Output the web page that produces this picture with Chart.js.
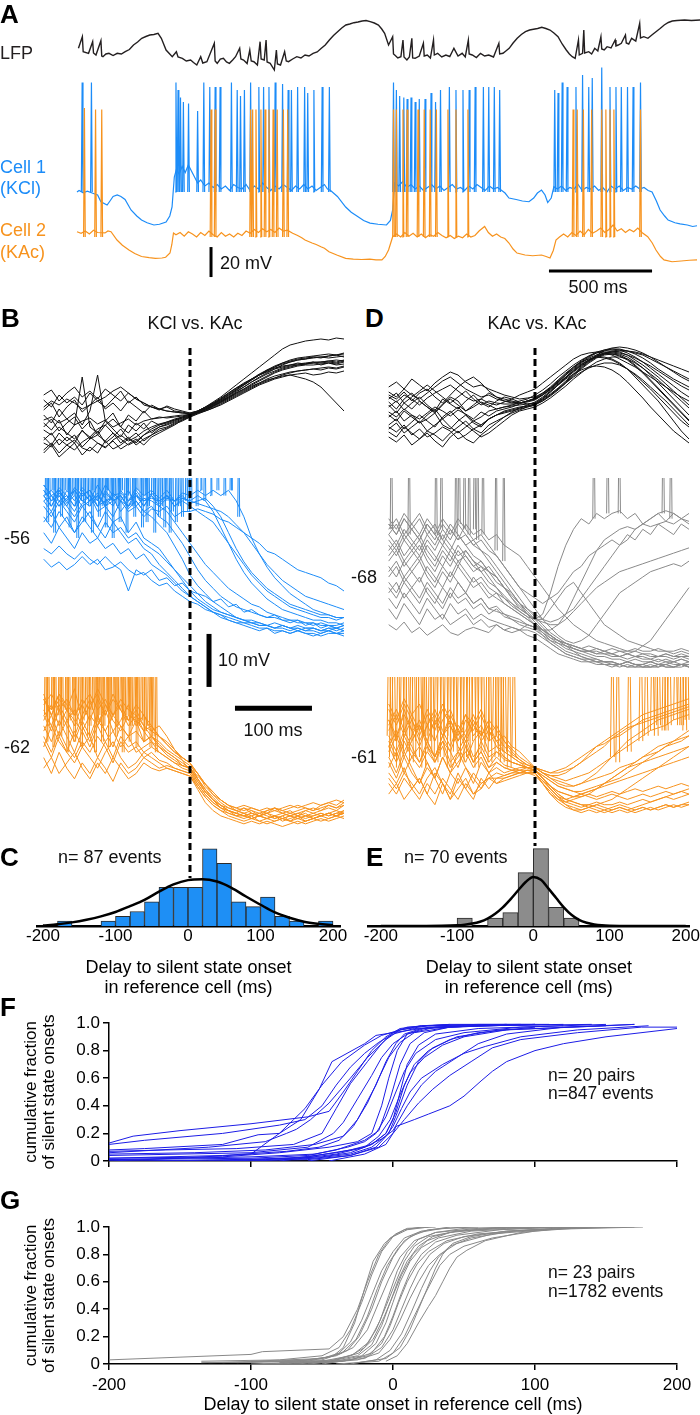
<!DOCTYPE html>
<html>
<head>
<meta charset="utf-8">
<script src="https://cdn.jsdelivr.net/npm/chart.js@4.4.1/dist/chart.umd.min.js"></script>
<style>
body { margin: 0; background: #fff; width: 700px; height: 1415px; position: relative; overflow: hidden; font-family: "Liberation Sans", Arial, sans-serif; }
canvas { position: absolute; }
.t { position: absolute; white-space: nowrap; line-height: 1; color: #111; }
</style>
</head>
<body>
<script>
// ---------- panel A : LFP + two cells (time ms, LFP uV, Vm mV) ----------
const lfpTrace = [[7,67],[26,183],[30,33],[56,17],[76,133],[80,20],[92,0],[116,143],[120,-10],[126,-17],[140,10],[155,17],[175,-5],[195,17],[215,10],[234,33],[254,55],[274,100],[294,130],[314,167],[334,185],[353,200],[373,205],[393,217],[409,167],[432,50],[462,-17],[482,33],[490,-20],[511,-33],[530,-60],[551,-50],[565,-75],[581,-100],[600,-17],[610,-80],[630,-67],[666,117],[670,-60],[680,-83],[695,-40],[710,-33],[725,-70],[739,-83],[755,-50],[769,-17],[789,67],[795,-40],[808,-50],[825,-85],[838,50],[845,-60],[858,-67],[875,-100],[888,133],[893,-40],[908,-50],[917,150],[922,-70],[937,-83],[957,-150],[967,50],[972,-90],[987,-100],[1007,33],[1015,-60],[1026,-67],[1046,-40],[1066,-17],[1086,-30],[1106,0],[1125,-10],[1145,17],[1165,30],[1185,67],[1204,100],[1224,150],[1244,195],[1264,233],[1284,270],[1304,300],[1323,310],[1343,323],[1363,330],[1383,340],[1402,345],[1422,333],[1442,320],[1462,300],[1478,260],[1492,217],[1511,100],[1531,183],[1535,10],[1541,0],[1556,-30],[1571,-17],[1581,150],[1586,-20],[1600,-50],[1612,-20],[1624,167],[1628,-30],[1640,-33],[1660,-10],[1680,117],[1684,-10],[1699,0],[1714,-30],[1729,150],[1733,0],[1749,17],[1769,-20],[1789,0],[1808,-15],[1828,67],[1848,-10],[1868,17],[1883,-20],[1898,150],[1902,10],[1917,0],[1937,-25],[1957,17],[1977,-10],[1997,0],[2020,-20],[2046,117],[2050,10],[2066,17],[2080,40],[2096,67],[2115,120],[2135,167],[2155,205],[2175,233],[2195,250],[2214,257],[2234,265],[2254,277],[2274,265],[2294,250],[2313,220],[2333,183],[2353,110],[2373,50],[2388,10],[2402,-17],[2416,-33],[2432,150],[2436,0],[2452,17],[2458,250],[2462,20],[2482,33],[2496,10],[2511,67],[2526,40],[2541,183],[2545,60],[2557,50],[2571,83],[2590,70],[2610,150],[2614,90],[2625,100],[2640,117],[2660,200],[2664,120],[2676,110],[2690,167],[2710,140],[2729,317],[2733,170],[2749,183],[2769,167],[2788,200],[2808,233],[2828,265],[2848,300],[2868,325],[2887,340],[2910,345],[2947,350],[2980,345],[3022,350]];

const cell1Trace = [[0,-48],[10,-47],[30,-48.5],[50,-47.5],[80,-49],[100,-50],[116,-54.5],[146,-56.7],[160,-54],[175,-51],[195,-50],[213,-51],[233,-53],[262,-60],[290,-64],[313,-66.7],[340,-68.5],[373,-70],[400,-69.5],[432,-68],[450,-64],[461,-58],[472,-38],[482,-33],[495,-36],[510,-31],[525,-35],[540,-30],[555,-34],[570,-38],[585,-42],[600,-40],[620,-44],[640,-42],[660,-45],[680,-43],[700,-46],[720,-44],[740,-47],[760,-43],[780,-45],[800,-46],[820,-43],[840,-47],[860,-44],[880,-46],[900,-42],[920,-45],[940,-47],[960,-44],[980,-46],[1000,-43],[1020,-45],[1040,-47],[1060,-44],[1080,-46],[1100,-43],[1120,-46],[1140,-44],[1160,-47],[1180,-45],[1200,-43],[1215,-46],[1230,-47],[1263,-51],[1303,-58],[1330,-61.5],[1363,-64.5],[1390,-67],[1421,-68.7],[1460,-69.5],[1501,-70],[1520,-67],[1531,-60],[1541,-42],[1560,-44],[1580,-41],[1600,-45],[1620,-43],[1640,-46],[1660,-44],[1680,-47],[1700,-45],[1720,-43],[1740,-46],[1760,-44],[1780,-47],[1800,-45],[1820,-43],[1840,-46],[1860,-45],[1880,-47],[1900,-44],[1920,-46],[1940,-43],[1960,-45],[1980,-47],[2000,-44],[2020,-46],[2040,-45],[2060,-47],[2076,-48.7],[2095,-52],[2130,-53],[2160,-54],[2192,-54.5],[2215,-52],[2233,-48.7],[2253,-46.7],[2270,-50],[2283,-55],[2300,-52],[2313,-44.5],[2330,-46],[2350,-44],[2370,-47],[2390,-45],[2410,-46],[2430,-43],[2450,-47],[2470,-45],[2490,-46],[2510,-44],[2530,-47],[2550,-45],[2570,-48],[2590,-44],[2610,-46],[2630,-44],[2650,-47],[2670,-45],[2690,-46],[2710,-44],[2730,-46],[2750,-45],[2770,-47],[2789,-48],[2810,-54],[2828,-60],[2850,-64],[2867,-66.7],[2900,-68.5],[2925,-69.3],[2960,-70],[2986,-71],[3007,-70.5]];

// [time, peak]
const cell1Spikes = [[21,25],[66,25],[476,25],[486,20],[498,15],[512,12],[537,11],[581,6],[611,25],[640,22],[666,22],[690,22],[745,25],[773,20],[789,16],[808,20],[838,25],[878,22],[901,22],[927,22],[957,25],[993,24],[1020,20],[1036,20],[1066,22],[1100,22],[1115,18],[1145,20],[1185,22],[1220,22],[1531,25],[1545,20],[1561,16],[1581,15],[1597,14],[1616,15],[1636,12],[1656,14],[1684,14],[1713,18],[1735,12],[1759,20],[1802,22],[1834,20],[1868,20],[1898,20],[1927,22],[1967,22],[1993,22],[2020,22],[2046,20],[2313,20],[2329,18],[2349,25],[2373,22],[2416,22],[2448,30],[2478,22],[2495,28],[2541,35],[2581,22],[2610,22],[2636,22],[2666,22],[2693,22],[2729,25]];

const cell2Trace = [[0,-57.5],[20,-58.5],[40,-57],[60,-59],[80,-56.5],[100,-58],[136,-58.3],[150,-57],[165,-57.5],[194,-63],[220,-66.5],[252,-69.7],[280,-72],[313,-74],[350,-74.8],[380,-75.2],[412,-75],[430,-74.5],[451,-71.7],[460,-66],[468,-58.3],[480,-59.5],[500,-58],[520,-60.5],[540,-57.5],[560,-59],[580,-61],[600,-58],[620,-60],[640,-57],[660,-59.5],[680,-61],[700,-58],[720,-60.5],[740,-59],[760,-61],[780,-58.5],[800,-60],[820,-57],[840,-58.5],[860,-56],[880,-58],[900,-55.5],[920,-57.5],[940,-56],[960,-58],[980,-55],[1000,-57],[1020,-56.5],[1046,-58.5],[1070,-60],[1090,-61.5],[1106,-63],[1140,-65],[1160,-66],[1183,-67.5],[1200,-68.5],[1222,-70.8],[1260,-73],[1303,-75.2],[1340,-75.8],[1380,-76],[1420,-75.8],[1450,-76.3],[1479,-76.3],[1495,-74],[1511,-69.7],[1531,-60.8],[1550,-59],[1570,-61],[1590,-58],[1610,-60.5],[1630,-58.5],[1650,-61],[1670,-59],[1690,-61.5],[1710,-59.5],[1730,-60.5],[1750,-58],[1770,-60],[1790,-61.5],[1810,-60],[1830,-62],[1850,-60.5],[1870,-61.5],[1890,-59],[1910,-61],[1930,-60],[1950,-57],[1977,-54],[1995,-58],[2015,-60.5],[2035,-59],[2055,-61],[2075,-62],[2095,-65],[2115,-69],[2134,-71.7],[2173,-73],[2210,-73.5],[2253,-73],[2275,-74],[2294,-75],[2310,-70],[2323,-63],[2340,-61],[2360,-59],[2380,-61],[2400,-58],[2420,-60],[2440,-57],[2460,-59.5],[2480,-56],[2500,-58.5],[2520,-57],[2540,-55],[2560,-58],[2580,-56],[2600,-53],[2620,-57],[2640,-55.5],[2660,-58],[2680,-56],[2700,-57.5],[2720,-55],[2740,-58],[2768,-60.8],[2790,-65],[2808,-69.7],[2830,-74],[2847,-76.3],[2886,-77.5],[2930,-77],[2970,-76.5],[3007,-76.3]];

const cell2Spikes = [[32,25],[86,24],[116,24],[646,24],[666,24],[838,24],[848,24],[864,24],[888,24],[908,24],[927,24],[947,24],[967,24],[997,24],[1018,24],[1531,24],[1545,24],[1577,24],[1597,24],[1650,24],[1680,24],[1709,24],[1739,24],[1795,24],[1834,24],[1892,24],[2402,24],[2422,24],[2452,24],[2492,24],[2541,24],[2561,24],[2581,24],[2600,24],[2729,24]];

// ---------- panels B and D : aligned sweeps around silent state onset ----------
const tGrid = [-190,-180,-170,-160,-150,-140,-130,-120,-110,-100,-90,-80,-70,-60,-50,-40,-30,-20,-10,0,10,20,30,40,50,60,70,80,90,100,110,120,130,140,150,160,170,180,190,200];

// B, LFP sweeps (a.u.)
const bLfp = [
  [-22,-30,-18,-26,-20,-32,-24,-16,-28,-22,-14,-24,-18,-26,-20,-14,-12,-8,-5,-1,4,8,12,16,22,27,31,36,40,44,47,49,50,52,51,53,50,52,51,53],
  [5,12,-2,8,15,3,10,18,6,12,4,14,8,2,10,6,8,4,3,1,3,6,10,14,19,24,28,33,38,42,46,50,53,55,56,58,57,59,60,61],
  [-8,-15,-5,-20,-10,38,-12,-18,-6,-14,-22,-10,-16,-8,-18,-12,-9,-6,-3,0,2,5,8,12,16,20,24,28,32,36,39,41,43,44,45,46,45,47,46,48],
  [-35,-28,-38,-30,-25,-33,-36,-28,-32,-26,-34,-29,-24,-30,-22,-18,-14,-10,-5,-2,1,4,7,10,14,18,22,26,30,33,36,38,40,41,42,40,41,43,42,44],
  [15,8,20,12,18,10,22,14,8,16,24,12,18,10,8,5,9,6,4,2,4,8,13,18,24,30,36,42,48,54,60,66,70,72,74,75,76,75,77,76],
  [-12,-4,-16,-8,-2,-14,-6,-20,-10,-4,-12,-18,-8,-14,-6,-10,-8,-5,-2,0,3,6,9,13,17,21,25,29,32,35,37,39,40,38,36,33,28,20,12,4],
  [0,-8,6,-4,2,-10,4,40,-6,2,-12,0,-6,4,-4,-2,-3,-2,-1,1,3,7,11,15,20,25,30,35,40,45,49,52,54,56,57,58,58,59,60,58],
  [-25,-18,-30,-22,-28,-15,-24,-20,-26,-18,-28,-22,-30,-24,-20,-16,-13,-9,-6,-2,2,5,9,13,17,22,26,30,34,38,42,45,47,49,50,50,51,52,50,51],
  [20,25,14,22,28,18,24,16,26,20,14,22,16,12,8,6,4,3,2,1,2,4,7,11,15,19,23,27,31,34,37,40,42,44,45,46,47,48,47,49],
  [-38,-30,-42,-35,-28,-40,-32,-38,-26,-34,-30,-24,-28,-20,-16,-12,-10,-7,-4,-1,3,7,11,16,21,26,31,36,41,45,48,51,53,55,56,57,58,57,58,59],
  [-5,-2,-8,-4,-10,-6,-3,-9,-5,-12,-8,-4,-10,-6,-4,-3,-2,-1,0,0,3,6,10,14,18,22,26,31,35,39,43,46,48,50,51,52,52,53,52,54],
  [8,14,10,16,12,6,10,14,18,24,28,22,16,12,8,6,4,3,2,2,4,7,11,15,20,25,30,35,40,44,48,52,55,57,58,59,60,61,60,62],
  [-28,-32,-24,-30,-35,-27,-22,-28,-33,-25,-20,-26,-22,-16,-12,-9,-7,-5,-3,-1,2,5,9,13,18,23,28,33,37,41,44,47,49,50,51,52,53,54,53,55],
  [-15,-20,-12,-18,-24,-16,-22,-14,-10,-18,-24,-30,-26,-20,-14,-10,-7,-4,-2,1,4,8,12,17,22,27,32,36,40,43,46,48,50,51,52,53,53,54,55,54]
];

// B, cell 1 (KCl) sweeps, mV
const bCell1 = [
  [-48,-50,-47.5,-49,-51,-48,-47,-50,-49,-48.5,-51,-49,-47.5,-50,-48,-49.5,-48,-50,-49,-50,-51,-52,-53,-55,-57,-59,-61,-63,-64.5,-66,-67,-68,-69,-69.5,-70,-70.5,-71,-71,-71.5,-71],
  [-46,-48,-50,-47,-49,-46.5,-48,-50,-47,-49,-48,-50.5,-49,-51,-52,-53.5,-55,-57.5,-60,-63,-65,-66.5,-68,-69,-70,-71,-71.5,-72,-72.5,-72.5,-73,-72.5,-73,-73.5,-73,-73,-73.5,-73,-73.5,-73],
  [-58,-59,-57.5,-59,-60,-58.5,-60,-61,-59.5,-61,-62,-66,-62,-63,-62,-64,-63.5,-65,-64.5,-66,-66.5,-67,-68,-67.5,-69,-68.5,-70,-69.5,-70.5,-71,-70.5,-71.5,-72,-71.5,-72.5,-72,-73,-72.5,-73,-72.5],
  [-49,-51,-48,-50,-52,-49.5,-48,-51,-50,-52,-49,-51,-50,-52,-50.5,-51,-50,-52,-51,-51,-50.5,-51,-51.5,-52.5,-53,-54,-55,-56,-57,-58.5,-59,-60,-61,-62,-62.5,-63,-63.5,-64.5,-65,-66],
  [-60,-61.5,-60.5,-62,-61,-59.5,-61,-60,-62,-61.5,-60.5,-62,-63,-62.5,-64,-65,-64.5,-66,-67,-68,-68.5,-69.5,-70,-71,-71.5,-72,-72.5,-73,-73.5,-73,-74,-73.5,-74,-73.5,-74,-74.5,-74,-73.5,-74,-74],
  [-47,-49,-46.5,-48,-50,-47.5,-49,-46,-48.5,-50,-47,-49,-48,-50,-47.5,-49,-48,-50,-48.5,-49,-48,-49,-51,-54,-57,-60,-62.5,-64.5,-66,-67.5,-68.5,-69.5,-70,-70.5,-71,-71.5,-71.5,-72,-72,-72.5],
  [-48,-50,-47,-49.5,-48,-50,-49,-47.5,-50,-48,-49,-47,-50,-48.5,-49,-50,-51,-53,-55,-57,-59,-61,-62.5,-64,-65.5,-66.5,-67.5,-68.5,-69,-70,-70.5,-71,-71.5,-71.5,-72,-72,-72.5,-72.5,-73,-72.5],
  [-46,-48,-47,-49,-46.5,-48,-47,-49,-46,-48,-47.5,-49,-46.5,-48,-47,-48.5,-47,-49,-47.5,-48,-47,-48,-47,-48,-47,-49,-52,-56,-59,-61.5,-63.5,-65,-66.5,-67.5,-68.5,-69.5,-70,-70.5,-71,-71],
  [-50,-52,-49,-51,-53,-50,-52,-54,-51,-53,-52,-55,-53,-56,-57,-58,-60,-62,-64,-66,-67.5,-68.5,-69.5,-70,-70.5,-71,-71.5,-71.5,-72,-72.5,-72,-72.5,-73,-72.5,-73,-73,-73.5,-73,-73,-73.5],
  [-52,-54,-51,-53,-55,-52,-54,-56,-53,-55,-54,-56,-55,-57,-58,-59,-60.5,-62,-63.5,-65,-66.5,-68,-69,-70,-70.5,-71,-71.5,-72,-72,-72.5,-73,-72.5,-73,-73,-73.5,-73,-73.5,-73.5,-73,-73.5],
  [-47,-49,-48,-50,-47,-49,-48,-50,-47.5,-49,-48,-50,-47,-49,-48,-50,-48.5,-49,-48,-49.5,-49,-48.5,-50,-52,-55,-58,-60.5,-62.5,-64,-65.5,-66.5,-67.5,-68.5,-69,-69.5,-70,-70.5,-70.5,-71,-71],
  [-55,-57,-54,-56,-58,-55,-57,-56,-58,-57,-59,-58,-60,-59,-61,-62,-63,-64.5,-66,-67,-68,-69,-70,-70.5,-71,-71.5,-72,-72,-72.5,-72.5,-73,-73,-73.5,-73,-73.5,-73.5,-74,-73.5,-74,-73.5],
  [-48,-47,-49,-48,-50,-47,-49,-48,-50,-49,-48,-50,-49,-51,-50,-52,-53,-55,-57,-59.5,-62,-64,-65.5,-67,-68,-69,-69.5,-70,-70.5,-71,-71,-71.5,-71.5,-72,-72,-72.5,-72,-72.5,-72.5,-72],
  [-49,-48,-50,-48.5,-47,-49,-50,-48,-49.5,-47.5,-49,-50,-48,-49,-48.5,-49,-48,-49,-48.5,-49,-49.5,-50,-50.5,-51,-52,-53.5,-55,-57,-59,-61,-62.5,-64,-65,-66,-67,-67.5,-68,-68.5,-69,-69.5],
  [-53,-51,-54,-52,-55,-53,-51,-54,-56,-53,-55,-57,-56,-58,-59,-61,-62.5,-64,-65.5,-67,-68,-69,-70,-70.5,-71.5,-72,-72,-72.5,-73,-73,-73.5,-73.5,-74,-73.5,-74,-74,-74.5,-74,-74,-74.5]
];
// [time, base]
const bCell1Spikes = [[-188,-48],[-184,-50],[-179,-47],[-175,-49],[-171,-48],[-166,-50],[-162,-47],[-158,-49],[-153,-48],[-149,-50],[-145,-47],[-141,-49],[-136,-48],[-132,-50],[-127,-47],[-123,-49],[-118,-48],[-114,-50],[-109,-47],[-104,-49],[-99,-48],[-95,-50],[-90,-47],[-85,-49],[-80,-48],[-75,-50],[-70,-47],[-65,-49],[-60,-48],[-55,-50],[-50,-48],[-45,-49],[-38,-50],[-31,-49],[-24,-51],[-15,-50],[-6,-49],[0,-49],[13,-47],[26,-48],[35,-47],[52,-47],[62,-52],
  [-186,-53],[-177,-55],[-168,-52],[-157,-54],[-147,-56],[-138,-53],[-128,-55],[-119,-52],[-110,-54],[-101,-56],[-92,-53],[-83,-55],[-73,-52],[-63,-54],[-57,-53],[-47,-55],[-41,-52],[-34,-54],[-27,-55],[-19,-53],[-11,-52],[-3,-51],[8,-50],[18,-49],[44,-48]];

// B, cell 2 (KAc) sweeps, mV
const bCell2 = [
  [-55,-58,-54,-57,-60,-56,-53,-58,-55,-59,-57,-54,-58,-56,-59,-58,-60,-62.5,-64.5,-66.5,-69,-71,-72.5,-73.5,-74.5,-75,-74.5,-75.5,-75,-74.5,-75.5,-75,-76,-75,-74.5,-75.5,-75,-74.5,-75,-74],
  [-52,-56,-53,-55,-51,-57,-54,-52,-56,-53,-55,-57,-54,-56,-58,-60,-61.5,-63,-64,-65,-68,-70.5,-72,-73,-74,-74.5,-73.5,-74.5,-75,-74,-73.5,-74.5,-74,-75,-74,-73.5,-74,-73,-73.5,-72.5],
  [-60,-63,-59,-62,-64,-61,-63,-60,-62,-65,-61,-63,-62,-64,-63,-64.5,-65,-66,-66.5,-67,-69.5,-71.5,-73,-74,-75,-75.5,-76,-75.5,-76,-76.5,-76,-75.5,-76,-76.5,-76,-75.5,-76,-75.5,-75,-75.5],
  [-57,-54,-58,-55,-57,-59,-56,-58,-54,-57,-59,-56,-57,-59,-61,-62,-63,-64,-65.5,-66,-68,-70,-72,-73.5,-74,-75,-75.5,-75,-76,-75.5,-75,-76,-75.5,-75,-76,-75.5,-75,-74.5,-75,-74.5],
  [-64,-67,-63,-66,-68,-65,-67,-64,-66,-68.5,-65,-67,-66,-64,-65,-66,-65.5,-66,-66.5,-67,-69,-71,-72.5,-73.5,-74,-74.5,-75,-74.5,-75,-74.5,-74,-74.5,-75,-74.5,-74,-74.5,-74,-73.5,-74,-73],
  [-53,-55,-52,-54,-56,-53,-55,-51,-54,-56,-53,-55,-56,-58,-60,-61,-62.5,-63.5,-64.5,-65.5,-67,-69,-70.5,-72,-73,-73.5,-74,-73.5,-74,-74.5,-73.5,-74,-73.5,-73,-73.5,-74,-73,-72.5,-73,-72],
  [-59,-56,-60,-57,-55,-58,-61,-57,-59,-56,-58,-60,-59,-61,-60,-61.5,-63,-64,-65,-66,-67.5,-69,-71,-72,-73,-74,-74.5,-74,-75,-74.5,-75,-75.5,-75,-74.5,-75,-75,-74.5,-75,-74.5,-74],
  [-62,-58,-61,-63,-59,-62,-60,-64,-61,-59,-62,-60,-63,-62,-61,-63,-64,-65,-65.5,-66,-68.5,-70.5,-72,-73,-73.5,-74,-74.5,-75,-74.5,-75,-75.5,-75,-74.5,-75,-75.5,-75,-74.5,-75,-74.5,-74.5],
  [-56,-59,-55,-58,-61,-57,-60,-56,-59,-62,-58,-60,-57,-61,-60,-62,-63.5,-64.5,-65.5,-66,-68,-70,-71.5,-73,-74,-74.5,-75,-74.5,-75,-75.5,-75,-74.5,-75,-75.5,-75,-74.5,-75,-74.5,-74,-74.5],
  [-61,-64,-60,-63,-65,-62,-64,-66,-63,-61,-64,-66,-65,-63,-64,-65,-66,-66.5,-67,-67.5,-70,-72.5,-74,-75,-75.5,-76,-76.5,-76,-76.5,-76,-76.5,-77,-76.5,-76,-76.5,-76,-75.5,-76,-75.5,-75],
  [-54,-52,-55,-53,-56,-54,-52,-55,-53,-56,-54,-57,-55,-58,-59,-60,-61,-62.5,-64,-65,-67,-69.5,-71,-72.5,-73.5,-74,-73.5,-74,-74.5,-74,-73.5,-74,-74.5,-74,-73.5,-74,-73.5,-73,-73.5,-73],
  [-58,-61,-57,-60,-63,-59,-62,-58,-61,-64,-60,-62,-61,-63,-62,-63,-64,-65,-66,-66.5,-68.5,-70.5,-72,-73,-74,-74.5,-75,-75.5,-75,-75.5,-76,-75.5,-75,-75.5,-76,-75.5,-75,-75.5,-75,-74.5],
  [-66,-64,-67,-65,-63,-66,-68,-65,-67,-64,-66,-68,-67,-65,-66,-66.5,-66,-66.5,-67,-67.5,-69.5,-71.5,-73,-74,-74.5,-75,-75,-75.5,-75,-75.5,-75,-75.5,-76,-75.5,-75,-75.5,-75,-74.5,-75,-74.5],
  [-53,-56,-52,-55,-58,-54,-57,-53,-56,-52,-55,-58,-56,-59,-58,-60,-61.5,-63,-64,-65,-67,-69,-70.5,-72,-73,-73.5,-73,-73.5,-74,-73.5,-74,-73.5,-73,-73.5,-73,-72.5,-73,-72.5,-72,-72.5]
];
const bCell2Spikes = [[-189,-56],[-185,-58],[-180,-55],[-176,-57],[-171,-56],[-167,-58],[-162,-55],[-158,-57],[-153,-56],[-149,-58],[-145,-55],[-140,-57],[-136,-56],[-131,-58],[-127,-55],[-122,-57],[-118,-56],[-113,-58],[-109,-55],[-104,-57],[-100,-56],[-95,-58],[-91,-55],[-86,-57],[-82,-56],[-77,-58],[-73,-57],[-68,-58],[-64,-57],[-59,-59],[-55,-58],[-49,-60],
  [-187,-61],[-178,-62],[-169,-60],[-160,-63],[-151,-61],[-142,-62],[-133,-60],[-124,-63],[-115,-61],[-106,-62],[-97,-60],[-88,-63],[-79,-61],[-70,-62],[-61,-61],[-52,-62],[-45,-63]];

// D, LFP sweeps (a.u.)
const dLfp = [
  [10,5,12,8,2,9,14,18,22,16,10,6,8,4,2,5,8,12,15,18,24,30,36,42,48,52,54,55,54,52,48,44,40,35,30,25,20,15,10,6],
  [-5,-10,-2,-8,-12,-6,0,-4,-9,-3,-7,-12,-5,-9,-4,-2,0,3,6,9,14,20,27,34,40,45,48,50,49,47,43,38,32,25,18,10,2,-6,-14,-20],
  [20,25,18,28,22,16,24,30,35,32,25,20,22,18,15,12,10,8,9,10,14,19,25,32,38,44,49,52,54,55,54,52,49,45,41,36,31,26,21,17],
  [-20,-25,-18,-28,-22,-30,-26,-20,-24,-32,-28,-22,-26,-18,-14,-10,-6,-3,0,2,8,15,22,30,37,43,47,50,50,48,44,38,30,22,14,6,-4,-14,-24,-32],
  [0,6,-3,4,10,2,-4,8,3,-2,6,12,4,0,6,10,8,5,3,4,8,13,19,26,33,40,46,52,56,58,58,56,53,49,44,38,33,28,24,20],
  [-30,-35,-28,-38,-32,-26,-34,-40,-30,-24,-32,-36,-28,-22,-16,-10,-5,-1,2,5,10,16,22,28,33,37,40,41,40,37,32,25,17,9,0,-8,-16,-24,-30,-36],
  [12,8,15,6,14,18,10,4,12,20,26,30,24,16,10,8,6,4,5,7,12,18,24,30,36,42,47,51,54,56,57,56,54,52,48,44,40,36,32,28],
  [-10,-4,-14,-8,-16,-12,-6,-18,-22,-14,-8,-16,-20,-12,-8,-5,-3,-1,1,3,7,12,18,25,32,39,45,50,53,54,53,50,45,39,32,24,16,8,0,-8],
  [5,-2,8,14,6,0,-6,2,10,6,-4,2,8,14,10,6,4,6,8,12,17,23,30,36,42,47,51,54,56,56,55,52,47,42,36,30,23,16,9,2],
  [-18,-12,-22,-15,-8,-14,-20,-10,-4,-12,-18,-24,-30,-26,-20,-14,-8,-4,-2,0,4,9,15,21,28,34,40,45,48,50,50,48,44,39,33,27,20,13,6,-1],
  [2,-6,4,-2,6,0,-5,3,8,2,-4,0,5,2,-2,0,2,4,6,8,13,19,26,33,40,46,51,55,57,58,57,54,50,45,39,33,27,21,15,10],
  [-22,-16,-26,-20,-14,-24,-18,-12,-20,-26,-20,-14,-18,-12,-8,-4,-2,0,1,3,6,11,17,24,31,38,44,49,52,53,52,48,42,35,27,19,11,3,-5,-13],
  [15,10,18,12,8,14,20,26,30,24,18,14,10,12,8,6,5,4,6,8,12,17,23,29,35,41,46,50,53,55,56,56,55,53,50,47,44,41,38,35],
  [-8,-14,-4,-10,-16,-8,-2,-12,-6,0,-8,-14,-10,-4,-2,0,1,2,3,4,9,15,22,29,36,42,47,51,53,53,51,47,41,34,26,18,10,2,-6,-14],
  [-25,-30,-20,-26,-32,-24,-28,-34,-26,-20,-14,-22,-18,-12,-8,-6,-4,-2,0,2,6,12,18,24,30,35,39,42,44,44,42,38,33,27,20,13,6,-2,-10,-18],
  [8,14,4,10,16,22,16,10,4,10,16,8,2,6,4,3,3,4,6,8,12,18,25,32,39,45,50,54,57,59,60,59,57,54,50,45,40,35,30,26]
];

// D, reference KAc cell sweeps, mV
const dCell1 = [
  [-58,-60,-57,-59,-61,-58,-60,-62,-59,-61,-60,-62,-63,-64,-66,-68,-70,-72,-74,-75.5,-77,-78.5,-79.5,-80.5,-81,-81.5,-82,-82.5,-82.5,-83,-83,-83.5,-83,-83.5,-83.5,-84,-83.5,-84,-83.5,-84],
  [-63,-61,-64,-62,-60,-63,-65,-62,-64,-66,-63,-65,-67,-66,-68,-70,-71,-73,-74.5,-76,-77.5,-79,-80,-81,-82,-82.5,-83,-83.5,-84,-84,-84.5,-84,-84.5,-85,-84.5,-85,-84.5,-85,-84.5,-85],
  [-60,-62,-59,-61,-63,-60,-58,-61,-63,-60,-62,-64,-65,-67,-68,-70,-72,-74,-75,-76,-75,-71,-66,-62,-59,-57,-58,-56,-57,-56,-55.5,-57,-56,-58,-57,-56,-57.5,-56,-57,-58],
  [-66,-68,-65,-67,-69,-66,-68,-70,-67,-69,-71,-68,-70,-72,-71,-73,-74,-75,-76,-77,-78,-79,-80,-80.5,-81,-81.5,-82,-82,-82.5,-82.5,-83,-82.5,-83,-83,-83.5,-83,-83,-83.5,-83,-83.5],
  [-77,-78,-76.5,-78.5,-77.5,-79,-78,-77,-78.5,-79,-78,-77.5,-78,-78.5,-77,-78,-77.5,-78,-77,-77.5,-78.5,-79.5,-80,-81,-81.5,-82,-82,-82.5,-82,-82.5,-83,-82.5,-83,-82.5,-83,-83,-82.5,-83,-82.5,-83],
  [-59,-57,-60,-58,-56,-59,-61,-58,-60,-57,-59,-61,-60,-62,-64,-66,-68,-70,-71,-72,-73,-72,-71,-69,-67,-66,-64,-63,-62,-61,-62,-60,-61,-59,-60,-58,-59,-60,-58,-59],
  [-70,-72,-69,-71,-73,-70,-72,-74,-71,-73,-72,-74,-73,-75,-74,-75.5,-76,-77,-77.5,-78,-79,-80,-80.5,-81,-81.5,-82,-82,-81.5,-82,-82.5,-82,-82.5,-82,-81,-80,-78,-76,-74,-72,-70],
  [-62,-64,-61,-63,-65,-62,-64,-66,-63,-65,-64,-66,-67,-69,-70,-72,-73,-74,-75,-76.5,-78,-79.5,-80.5,-81.5,-82,-83,-83.5,-84,-84,-84.5,-84.5,-85,-84.5,-85,-85,-84.5,-85,-85,-84.5,-85],
  [-67,-65,-68,-66,-64,-67,-69,-66,-68,-65,-67,-69,-68,-70,-71,-72,-73.5,-74.5,-75.5,-76,-76,-74,-72,-70,-69,-71,-73,-75,-77,-78,-79,-80,-80.5,-81,-81.5,-82,-82,-82.5,-82,-82.5],
  [-64,-62,-65,-63,-61,-64,-66,-63,-65,-62,-64,-66,-65,-67,-68,-70,-71.5,-73,-74,-75,-76,-76.5,-76,-75,-74,-72,-70,-68,-66,-64,-62,-61,-59,-58,-57,-56,-55.5,-56,-57,-56],
  [-72,-74,-71,-73,-75,-72,-74,-76,-73,-75,-74,-76,-75,-76,-76.5,-77,-77.5,-78,-78,-78.5,-79.5,-80.5,-81.5,-82.5,-83,-83.5,-84,-84,-84.5,-84.5,-85,-84.5,-85,-85,-85,-84.5,-85,-85,-84.5,-85],
  [-61,-63,-60,-62,-64,-61,-63,-60,-62,-64,-63,-65,-66,-67,-69,-70,-72,-73.5,-75,-76,-76.5,-77,-77,-76,-74.5,-73,-71.5,-70,-69,-68,-67,-66.5,-66,-65.5,-65,-64.5,-64,-63.5,-63,-62.5],
  [-65,-63,-66,-64,-62,-65,-67,-64,-66,-63,-65,-67,-66,-68,-70,-71.5,-73,-74.5,-75.5,-77,-78.5,-80,-81,-82,-82.5,-83,-83.5,-83.5,-84,-84,-84.5,-84,-84.5,-84.5,-84,-84.5,-84.5,-84,-84.5,-84.5],
  [-57,-59,-56,-58,-60,-57,-59,-61,-58,-60,-62,-61,-63,-65,-67,-69,-71,-73,-75,-76.5,-78,-79,-80,-80.5,-81,-81.5,-81,-81.5,-82,-81.5,-82,-82,-81.5,-82,-82,-81.5,-82,-82,-81.5,-82],
  [-69,-71,-68,-70,-72,-69,-71,-73,-70,-72,-71,-73,-72,-74,-73.5,-75,-75.5,-76,-77,-77.5,-78,-78,-77,-75,-72,-69,-66,-63,-61,-60,-59,-58.5,-59,-58,-58.5,-58,-57.5,-58,-57,-57.5],
  [-74,-76,-73,-75,-77,-74,-76,-75,-77,-76,-75,-77,-76,-77.5,-77,-78,-78.5,-78,-79,-79.5,-80.5,-81.5,-82.5,-83,-83.5,-84,-84,-84.5,-84.5,-85,-84.5,-85,-85,-84.5,-85,-85,-84.5,-85,-85,-84.5],
  [-60,-58,-61,-59,-57,-60,-62,-59,-61,-58,-60,-62,-61,-63,-64,-66,-68,-70,-72,-74,-76,-77.5,-79,-80,-80.5,-80,-79,-77,-75,-73,-71,-70,-69,-68,-67,-66.5,-66,-65.5,-66,-65],
  [-68,-66,-69,-67,-65,-68,-70,-67,-69,-66,-68,-70,-69,-71,-72,-73,-74,-75,-76,-77,-78,-79,-80,-80.5,-81.5,-82,-82.5,-83,-83,-83.5,-83.5,-84,-83.5,-84,-84,-83.5,-84,-84,-83.5,-84],
  [-58,-60,-57,-59,-61,-58,-60,-57,-59,-61,-58,-60,-59,-61,-60,-62,-63,-64,-66,-68,-70,-72,-74,-75.5,-77,-78,-79,-80,-80.5,-81,-81.5,-82,-82,-82.5,-82.5,-83,-82.5,-83,-83,-83],
  [-71,-69,-72,-70,-68,-71,-73,-70,-72,-69,-71,-73,-72,-74,-74.5,-75,-76,-76.5,-77,-77.5,-79,-80.5,-81.5,-82.5,-83,-83.5,-83.5,-84,-84,-84,-84.5,-84,-84.5,-84.5,-84,-84.5,-84,-84.5,-84.5,-84]
];
const dCell1Spikes = [[-188,-59],[-165,-60],[-130,-60],[-123,-59],[-104,-60],[-100,-58],[-93,-59],[-87,-60],[-80,-59],[-76,-61],[-69,-60],[-52,-63],[-42,-65],[75,-57],[93,-56],[108,-56],[165,-56],[175,-57]];

// D, second KAc cell sweeps, mV
const dCell2 = [
  [-54,-58,-52,-56,-59,-55,-53,-57,-54,-58,-56,-53,-57,-55,-58,-57,-59,-60,-61.5,-63,-64,-64.5,-65,-65.5,-65,-64.5,-64,-63,-62,-61,-60,-59,-58,-57,-56,-55.5,-55,-54,-53.5,-53],
  [-58,-61,-57,-60,-62,-59,-61,-58,-62,-60,-57,-61,-59,-62,-60,-61,-62,-62.5,-63,-63.5,-65,-66.5,-67.5,-68,-68.5,-68,-68.5,-69,-68.5,-68,-68.5,-69,-68.5,-68,-68.5,-68,-67.5,-68,-67.5,-68],
  [-62,-65,-61,-64,-66,-63,-65,-68,-64,-66,-63,-65,-67,-64,-66,-65,-64.5,-64,-63.5,-64,-65.5,-67,-68.5,-69.5,-70,-70.5,-70,-70.5,-71,-70.5,-70,-70.5,-71,-70.5,-71,-70.5,-70,-70.5,-70,-70],
  [-52,-55,-51,-54,-57,-53,-56,-52,-55,-58,-54,-56,-53,-57,-55,-58,-59.5,-61,-62,-63,-63.5,-64,-63.5,-63,-62,-61,-60,-59,-58.5,-57.5,-57,-56,-55,-54.5,-54,-53.5,-53,-52.5,-52,-51.5],
  [-60,-57,-61,-58,-55,-59,-62,-58,-60,-56,-59,-62,-58,-61,-60,-61.5,-62,-62.5,-63,-63.5,-64.5,-65.5,-66.5,-67,-67.5,-68,-67.5,-67,-66,-65,-64,-63,-62,-61,-60,-59,-58.5,-58,-57.5,-57],
  [-64,-66,-63,-67,-65,-68,-64,-66,-69,-65,-67,-64,-66,-65,-64,-64.5,-64,-63.5,-63,-63.5,-65,-66.5,-68,-69,-69.5,-70,-70.5,-70,-70.5,-71,-70.5,-71,-70.5,-70,-69.5,-69,-68.5,-68,-67.5,-67],
  [-56,-53,-57,-54,-58,-55,-52,-56,-59,-55,-57,-54,-58,-56,-59,-60,-61,-62,-62.5,-63,-64,-65,-65.5,-66,-66.5,-66,-65.5,-65,-64.5,-64,-63,-62.5,-62,-61,-60.5,-60,-59,-58.5,-58,-57],
  [-59,-62,-58,-61,-63,-60,-62,-59,-63,-61,-58,-62,-60,-63,-61,-62.5,-63,-63.5,-64,-64,-66,-68,-69,-69.5,-69,-68.5,-68,-67,-66,-65,-64,-63,-62.5,-62,-61.5,-61,-60.5,-60,-59.5,-59],
  [-66,-68,-65,-67,-69,-66,-68,-65,-67,-69,-66,-68,-67,-65,-66,-65.5,-65,-64.5,-64,-64.5,-66,-67.5,-69,-70,-70.5,-71,-70.5,-71,-71.5,-71,-70.5,-71,-71.5,-71,-70.5,-71,-70.5,-70,-70.5,-70],
  [-54,-57,-53,-56,-55,-58,-54,-57,-53,-56,-58,-55,-57,-54,-56,-58,-60,-61.5,-62.5,-63,-63.5,-64,-64,-63.5,-63,-62,-61,-60,-59,-57.5,-56.5,-55.5,-55,-54,-53.5,-53,-52.5,-52,-51.5,-51],
  [-57,-60,-56,-59,-62,-58,-61,-57,-60,-63,-59,-62,-60,-63,-62,-63,-63.5,-63.5,-63.5,-63.5,-64.5,-65.5,-66.5,-67,-67.5,-67.5,-67,-66.5,-66,-65.5,-65,-64,-63,-62,-61,-60,-59,-58,-57,-56],
  [-63,-60,-64,-61,-59,-62,-65,-61,-64,-60,-63,-66,-62,-64,-63,-64,-63.5,-63,-63,-63,-64,-65,-66,-66.5,-66.5,-66,-65,-64,-62.5,-61,-59.5,-58,-57,-56,-55,-54,-53.5,-53,-52.5,-52],
  [-51,-54,-50,-53,-56,-52,-55,-51,-54,-57,-53,-55,-52,-56,-58,-60,-61,-62,-63,-63.5,-65,-66.5,-68,-69,-69.5,-70,-70,-69.5,-70,-70,-69.5,-70,-69.5,-69,-69.5,-69,-68.5,-69,-68.5,-68],
  [-68,-66,-69,-67,-65,-68,-70,-66,-69,-67,-65,-68,-66,-65,-65,-64.5,-64,-64,-63.5,-63.5,-65,-67,-68.5,-70,-71,-71.5,-71,-71.5,-71,-71.5,-71,-71.5,-71,-70.5,-71,-70.5,-70,-70.5,-70,-69.5],
  [-55,-52,-56,-53,-51,-55,-58,-54,-52,-56,-53,-57,-55,-58,-57,-59,-60.5,-61.5,-62.5,-63,-64,-64.5,-64.5,-64,-63,-62,-60.5,-59,-58,-57,-56,-55,-54,-53,-52.5,-52,-51.5,-51,-50.5,-50],
  [-61,-64,-60,-63,-66,-62,-65,-61,-64,-62,-60,-63,-61,-64,-62,-63,-63.5,-64,-64,-64,-65.5,-67,-68.5,-69,-68.5,-68,-67.5,-67,-66.5,-66,-65.5,-65,-64.5,-64,-63.5,-63,-62.5,-62,-61.5,-61],
  [-59,-56,-60,-57,-54,-58,-61,-57,-55,-59,-62,-58,-56,-60,-59,-61,-62,-62.5,-63,-63.5,-65,-66.5,-67.5,-68,-68.5,-68.5,-68,-68.5,-68,-67.5,-68,-67.5,-67,-67.5,-67,-66.5,-67,-66.5,-66,-66.5],
  [-65,-67,-64,-66,-68,-65,-63,-66,-68,-64,-67,-69,-65,-67,-65,-65,-64.5,-64,-64,-64,-66,-68,-69.5,-70.5,-71,-71,-70.5,-70,-69.5,-69,-68,-67,-66,-65,-64,-63,-62,-61,-60,-59]
];
const dCell2Spikes = [[-192,-57],[-186,-58],[-175,-56],[-168,-57],[-160,-58],[-152,-56],[-145,-57],[-136,-58],[-127,-56],[-118,-57],[-110,-58],[-101,-56],[-93,-57],[-86,-58],[-82,-56],[-74,-57],[-64,-58],[-55,-57],[-48,-59],[-42,-60],[-30,-61],[98,-61],[150,-56],[158,-55],[165,-56],[172,-55],[180,-54],[188,-55],[195,-54],
  [-189,-61],[-180,-63],[-171,-60],[-163,-62],[-155,-61],[-147,-63],[-139,-60],[-131,-62],[-123,-61],[-114,-63],[-106,-60],[-97,-62],[-89,-61],[-78,-63],[-70,-60],[-61,-62],[-52,-61],[-45,-62],[-36,-63],[105,-62],[120,-60],[135,-58],[142,-57],[155,-57],[168,-56],[185,-55],[192,-56]];

// ---------- panels C and E : delay histograms ----------
const cBins = [-170,-110,-90,-70,-50,-30,-10,10,30,50,70,90,110,130,150,190];
const cCounts = [1,1,2,3,5,8,8,8,16,13,5,4,6,2,1,1];
const cFitX = [-200,-180,-160,-140,-120,-100,-80,-60,-40,-20,0,20,40,60,80,100,120,140,160,180,200];
const cFitY = [0.1,0.35,0.75,1.3,2.0,2.9,4.1,5.4,7.1,8.6,9.5,9.7,9.2,7.9,6.1,4.4,2.8,1.7,0.9,0.45,0.15];

const eBins = [-90,-50,-30,-10,10,30,50];
const eCounts = [3,3,5,20,29,7,3];
const eFitX = [-200,-150,-120,-100,-90,-80,-70,-60,-50,-40,-30,-20,-10,0,10,20,30,40,50,60,70,80,90,100,130,200];
const eFitY = [0,0,0.05,0.25,0.5,0.9,1.6,2.8,4.6,7,10,13.3,16.5,18.4,17.3,14,10.5,7,4.2,2.3,1.2,0.6,0.25,0.1,0,0];

const delayTicks = [-200,-100,0,100,200];
const fracTicks = [0,0.2,0.4,0.6,0.8,1];

// ---------- panel F : cumulative delay, KCl vs KAc pairs ----------
const fPairs = [
  [[-200,0.13],[-183,0.18],[-150,0.22],[-100,0.27],[-60,0.32],[-45,0.36],[-35,0.5],[-25,0.65],[-15,0.8],[-5,0.9],[5,0.96],[20,0.98],[60,0.99],[110,0.99]],
  [[-200,0.08],[-175,0.09],[-120,0.12],[-95,0.19],[-80,0.2],[-65,0.3],[-52,0.52],[-43,0.72],[-20,0.85],[-12,0.91],[0,0.93],[20,0.96],[60,0.98],[140,0.99]],
  [[-200,0.07],[-160,0.08],[-110,0.09],[-70,0.12],[-50,0.2],[-40,0.38],[-30,0.56],[-18,0.72],[-8,0.85],[0,0.93],[10,0.97],[40,0.99],[100,0.99]],
  [[-200,0.05],[-140,0.06],[-90,0.08],[-55,0.12],[-35,0.18],[-25,0.3],[-12,0.55],[-5,0.72],[2,0.85],[8,0.92],[20,0.96],[60,0.98],[120,0.99]],
  [[-200,0.02],[-120,0.03],[-80,0.06],[-45,0.1],[-25,0.14],[-15,0.2],[-8,0.4],[-3,0.6],[3,0.8],[10,0.92],[25,0.97],[80,0.99]],
  [[-200,0.01],[-100,0.02],[-60,0.04],[-40,0.08],[-20,0.15],[-10,0.22],[-2,0.45],[5,0.7],[12,0.85],[22,0.93],[40,0.97],[100,0.99]],
  [[-200,0],[-90,0.01],[-50,0.03],[-30,0.06],[-15,0.12],[-5,0.2],[0,0.3],[5,0.5],[10,0.7],[18,0.84],[30,0.92],[60,0.96],[120,0.98]],
  [[-45,0],[-20,0.05],[-5,0.12],[0,0.2],[2,0.25],[15,0.3],[25,0.34],[40,0.4],[50,0.47],[62,0.58],[70,0.65],[80,0.72],[100,0.8],[120,0.85],[150,0.9],[200,0.96]],
  [[-60,0],[-30,0.04],[-10,0.1],[0,0.2],[8,0.3],[18,0.42],[28,0.52],[40,0.62],[55,0.72],[70,0.82],[90,0.88],[130,0.93],[175,0.97],[200,0.97]],
  [[-80,0],[-40,0.05],[-20,0.1],[-8,0.16],[0,0.22],[10,0.4],[20,0.55],[30,0.65],[45,0.75],[60,0.85],[80,0.92],[120,0.97],[170,0.99]],
  [[-120,0],[-60,0.03],[-30,0.08],[-15,0.12],[-5,0.2],[2,0.35],[8,0.55],[15,0.7],[25,0.8],[40,0.88],[60,0.93],[100,0.97]],
  [[-160,0],[-70,0.02],[-40,0.06],[-20,0.1],[-10,0.18],[-2,0.3],[5,0.48],[12,0.64],[22,0.75],[35,0.84],[50,0.9],[80,0.95],[150,0.98]],
  [[-200,0.04],[-150,0.05],[-100,0.06],[-60,0.1],[-42,0.2],[-35,0.28],[-25,0.45],[-15,0.62],[-8,0.75],[0,0.85],[10,0.92],[30,0.97],[80,0.99]],
  [[-200,0.06],[-130,0.1],[-90,0.14],[-75,0.2],[-68,0.23],[-58,0.3],[-45,0.42],[-30,0.6],[-18,0.75],[-5,0.88],[5,0.95],[25,0.98],[90,0.99]],
  [[-200,0.01],[-100,0.03],[-55,0.05],[-32,0.1],[-20,0.14],[-12,0.2],[-5,0.32],[2,0.5],[8,0.65],[16,0.78],[30,0.88],[50,0.93],[90,0.97],[150,0.99]],
  [[-200,0.12],[-175,0.15],[-120,0.2],[-80,0.26],[-62,0.3],[-50,0.4],[-40,0.55],[-30,0.68],[-20,0.78],[-10,0.86],[0,0.92],[15,0.96],[50,0.98]],
  [[-200,0],[-150,0.02],[-100,0.05],[-80,0.2],[-70,0.3],[-62,0.38],[-50,0.55],[-36,0.72],[-20,0.84],[-8,0.91],[5,0.95],[20,0.98],[40,0.99]],
  [[-100,0],[-55,0.02],[-30,0.05],[-15,0.1],[-5,0.18],[0,0.25],[6,0.38],[12,0.5],[20,0.6],[35,0.7],[50,0.78],[65,0.83],[90,0.9],[130,0.95],[180,0.98]],
  [[-130,0],[-60,0.01],[-30,0.04],[-12,0.1],[-3,0.2],[3,0.35],[10,0.55],[18,0.72],[28,0.82],[45,0.9],[75,0.95],[150,0.98],[170,0.99]],
  [[-200,0.02],[-120,0.04],[-75,0.07],[-52,0.1],[-38,0.15],[-28,0.25],[-18,0.42],[-10,0.6],[-3,0.75],[5,0.86],[15,0.93],[40,0.97],[100,0.99]]
];

// ---------- panel G : cumulative delay, KAc vs KAc pairs ----------
const gPairs = [
  [[-200,0.03],[-100,0.07],[-92,0.09],[-45,0.11],[-35,0.2],[-25,0.4],[-18,0.6],[-10,0.8],[-2,0.92],[8,0.98],[20,1]],
  [[-135,0.02],[-80,0.03],[-50,0.06],[-38,0.12],[-30,0.25],[-22,0.45],[-15,0.65],[-8,0.82],[0,0.93],[10,0.98],[25,1]],
  [[-135,0.01],[-70,0.02],[-45,0.05],[-32,0.1],[-24,0.2],[-15,0.4],[-8,0.6],[0,0.78],[8,0.9],[18,0.96],[35,0.99],[60,1]],
  [[-120,0.01],[-60,0.03],[-40,0.06],[-28,0.12],[-18,0.25],[-10,0.45],[-3,0.62],[5,0.78],[15,0.9],[30,0.96],[60,0.99],[100,1]],
  [[-100,0],[-50,0.02],[-30,0.06],[-20,0.12],[-12,0.25],[-5,0.42],[2,0.6],[8,0.75],[15,0.86],[25,0.93],[45,0.97],[80,0.99],[140,1]],
  [[-90,0],[-40,0.02],[-22,0.06],[-12,0.15],[-5,0.3],[0,0.45],[5,0.6],[12,0.75],[20,0.85],[32,0.92],[55,0.97],[110,1]],
  [[-70,0],[-35,0.02],[-18,0.06],[-8,0.15],[-2,0.28],[4,0.45],[10,0.6],[17,0.73],[25,0.82],[38,0.9],[60,0.95],[100,0.98],[176,1]],
  [[-60,0],[-25,0.03],[-10,0.08],[-2,0.18],[5,0.32],[12,0.48],[18,0.6],[25,0.72],[33,0.8],[45,0.88],[70,0.95],[120,0.99],[150,1]],
  [[-40,0],[-10,0.02],[0,0.08],[8,0.2],[15,0.35],[22,0.5],[28,0.62],[33,0.72],[40,0.8],[50,0.86],[70,0.92],[100,0.97],[140,1]],
  [[-5,0.02],[3,0.06],[10,0.15],[18,0.3],[25,0.42],[30,0.5],[35,0.6],[40,0.7],[45,0.78],[52,0.83],[65,0.9],[90,0.96],[130,1]],
  [[-130,0.01],[-60,0.02],[-42,0.06],[-35,0.12],[-27,0.3],[-20,0.55],[-14,0.75],[-6,0.88],[2,0.95],[10,0.99],[30,1]],
  [[-110,0.01],[-50,0.03],[-36,0.08],[-26,0.18],[-18,0.35],[-11,0.55],[-4,0.72],[4,0.85],[12,0.93],[25,0.98],[50,1]],
  [[-80,0],[-45,0.02],[-28,0.07],[-17,0.16],[-9,0.32],[-3,0.5],[3,0.68],[10,0.82],[18,0.91],[30,0.96],[50,0.99],[90,1]],
  [[-50,0],[-30,0.03],[-15,0.08],[-6,0.2],[0,0.35],[6,0.52],[12,0.67],[20,0.8],[30,0.89],[45,0.94],[75,0.98],[120,1]],
  [[-60,0.01],[-20,0.04],[-8,0.12],[0,0.25],[6,0.4],[12,0.55],[18,0.68],[26,0.8],[36,0.88],[50,0.93],[80,0.97],[130,1]],
  [[-30,0],[-12,0.03],[-2,0.1],[6,0.22],[13,0.38],[20,0.55],[26,0.68],[32,0.78],[40,0.86],[55,0.92],[85,0.97],[140,1]],
  [[-25,0.01],[-5,0.04],[5,0.12],[12,0.25],[18,0.4],[24,0.55],[30,0.7],[35,0.8],[42,0.88],[55,0.93],[80,0.97],[120,0.99],[170,1]],
  [[-45,0.02],[-25,0.06],[-15,0.14],[-8,0.28],[-2,0.45],[4,0.62],[10,0.75],[18,0.86],[28,0.93],[45,0.97],[80,1]],
  [[-100,0.02],[-50,0.04],[-38,0.08],[-30,0.16],[-22,0.32],[-15,0.5],[-8,0.68],[0,0.82],[8,0.92],[20,0.97],[40,1]],
  [[-80,0.01],[-40,0.03],[-24,0.08],[-14,0.18],[-6,0.35],[0,0.5],[6,0.65],[14,0.8],[24,0.9],[40,0.96],[70,0.99],[110,1]]
];

// ---------- drawing ----------
const FONT = '"Liberation Sans", Arial, sans-serif';
Chart.defaults.font.family = FONT;
Chart.defaults.color = '#000';

const BLUE = '#1c8cf8';
const ORANGE = '#f7931e';
const GREY = '#8a8a8a';

function canvasAt(left, top, w, h) {
	const c = document.createElement('canvas');
	c.width = w;
	c.height = h;
	c.style.left = left + 'px';
	c.style.top = top + 'px';
	c.style.width = w + 'px';
	c.style.height = h + 'px';
	document.body.appendChild(c);
	return c;
}

function txt(s, x, y, o) {
	o = o || {};
	const d = document.createElement('div');
	d.className = 't';
	d.textContent = s;
	d.style.left = x + 'px';
	d.style.top = y + 'px';
	d.style.fontSize = (o.size || 18) + 'px';
	if (o.color) d.style.color = o.color;
	if (o.bold) d.style.fontWeight = 'bold';
	const tx = o.align === 'center' ? '-50%' : o.align === 'right' ? '-100%' : '0';
	d.style.transform = 'translate(' + tx + ',-50%)';
	document.body.appendChild(d);
}

// axis range so that refVal sits at refPx, k pixels per unit
function yRange(top, h, refPx, refVal, k) {
	return [refVal - (top + h - refPx) / k, refVal + (refPx - top) / k];
}

const quiet = {
	responsive: false,
	animation: false,
	events: [],
	plugins: { legend: { display: false }, tooltip: { enabled: false } },
};

function line(d) {
	return Object.assign({ pointRadius: 0, tension: 0, fill: false, borderWidth: 1, spanGaps: false }, d);
}

function sweeps(traces, color, w) {
	return traces.map((vals) => line({ data: vals.map((v, i) => ({ x: tGrid[i], y: v })), borderColor: color, borderWidth: w || 1 }));
}

// spikes that leave the top of the panel: [time, base]
function clippedSpikes(spikes, top, width, color) {
	const pts = [];
	spikes.forEach(([t, base]) => {
		pts.push({ x: t, y: base }, { x: t + width / 2, y: top }, { x: t + width, y: base }, { x: t + width, y: null });
	});
	return line({ data: pts, borderColor: color });
}

// spikes with their own peak: [time, peak]
function peakSpikes(spikes, base, width, color, axis) {
	const pts = [];
	spikes.forEach(([t, peak]) => {
		pts.push({ x: t, y: base }, { x: t + width / 2, y: peak }, { x: t + width, y: base }, { x: t + width, y: null });
	});
	return line({ data: pts, borderColor: color, borderWidth: 1.2, yAxisID: axis });
}

function traceChart(left, top, w, h, xr, yr, datasets) {
	return new Chart(canvasAt(left, top, w, h), {
		type: "line",
		data: { datasets: datasets },
		options: Object.assign({}, quiet, {
			layout: { padding: 0 },
			scales: {
				x: { type: "linear", display: false, min: xr[0], max: xr[1] },
				y: { type: "linear", display: false, min: yr[0], max: yr[1] },
			},
		}),
	});
}

const pts = (arr) => arr.map(([x, y]) => ({ x: x, y: y }));

// ----- A -----
const aX = [-77 * 4.85, (700 - 77) * 4.85];
const aLfp = yRange(0, 300, 55, 0, 0.1);
const aC1 = yRange(0, 300, 225, -70, 1.5);
const aC2 = yRange(0, 300, 258, -75, 1.5);
new Chart(canvasAt(0, 0, 700, 300), {
	type: "line",
	data: {
		datasets: [
			peakSpikes(cell2Spikes, -61, 8, ORANGE, "c2"),
			line({ data: pts(cell2Trace), borderColor: ORANGE, borderWidth: 1.2, yAxisID: "c2" }),
			peakSpikes(cell1Spikes, -48, 8, BLUE, "c1"),
			line({ data: pts(cell1Trace), borderColor: BLUE, borderWidth: 1.2, yAxisID: "c1" }),
			line({ data: pts(lfpTrace), borderColor: "#231f20", borderWidth: 1.4, yAxisID: "lfp" }),
			// 20 mV and 500 ms scale bars
			line({ data: [{ x: 650, y: -87.7 }, { x: 650, y: -67.7 }], borderColor: "#000", borderWidth: 3, yAxisID: "c2" }),
			line({ data: [{ x: 2289, y: -83.7 }, { x: 2789, y: -83.7 }], borderColor: "#000", borderWidth: 3, yAxisID: "c2" }),
		],
	},
	options: Object.assign({}, quiet, {
		layout: { padding: 0 },
		scales: {
			x: { type: "linear", display: false, min: aX[0], max: aX[1] },
			lfp: { type: "linear", display: false, min: aLfp[0], max: aLfp[1] },
			c1: { type: "linear", display: false, min: aC1[0], max: aC1[1] },
			c2: { type: "linear", display: false, min: aC2[0], max: aC2[1] },
		},
	}),
});

// ----- B column -----
const bX = [-190 / 0.77, 165 / 0.77];
traceChart(0, 330, 355, 140, bX, yRange(330, 140, 415, 0, 1), sweeps(bLfp, "#111"));
const b1r = yRange(478, 160, 538, -56, 5.3);
traceChart(0, 478, 355, 160, bX, b1r, [clippedSpikes(bCell1Spikes, b1r[1] + 15, 2.5, BLUE)].concat(sweeps(bCell1, BLUE)));
const b2r = yRange(677, 155, 747, -62, 5.3);
traceChart(0, 677, 355, 155, bX, b2r, [clippedSpikes(bCell2Spikes, b2r[1] + 15, 2.5, ORANGE)].concat(sweeps(bCell2, ORANGE)));

// ----- D column -----
const dX = [-180 / 0.77, 165 / 0.77];
traceChart(355, 335, 345, 125, dX, yRange(335, 125, 407, 0, 1), sweeps(dLfp, "#111"));
const d1r = yRange(478, 195, 577, -68, 5.3);
traceChart(355, 478, 345, 195, dX, d1r, [clippedSpikes(dCell1Spikes, d1r[1] + 15, 3, GREY)].concat(sweeps(dCell1, GREY)));
const d2r = yRange(677, 140, 757, -61, 5.3);
traceChart(355, 677, 345, 140, dX, d2r, [clippedSpikes(dCell2Spikes, d2r[1] + 15, 5, ORANGE)].concat(sweeps(dCell2, ORANGE)));

// ----- histograms C, E -----
function histChart(left, w, pad, xr, ymax, bins, counts, fitX, fitY, fill) {
	return new Chart(canvasAt(left, 835, w, 165), {
		type: "bar",
		data: {
			datasets: [
				{ type: "line", data: fitX.map((x, i) => ({ x: x, y: fitY[i] })), borderColor: "#000", borderWidth: 2.5, pointRadius: 0, cubicInterpolationMode: "monotone", order: 0 },
				{ type: "bar", data: bins.map((b, i) => ({ x: b, y: counts[i] })), backgroundColor: fill, borderColor: "#2b2b2b", borderWidth: 1, barPercentage: 1, categoryPercentage: 1, order: 1 },
			],
		},
		options: Object.assign({}, quiet, {
			layout: { padding: { left: pad[0], right: pad[1], top: 0, bottom: 0 } },
			scales: {
				x: {
					type: "linear", offset: false, min: xr[0], max: xr[1],
					afterBuildTicks: (s) => { s.ticks = delayTicks.map((v) => ({ value: v })); },
					afterFit: (s) => { s.height = 74; },
					grid: { display: false, drawTicks: false },
					border: { display: true, color: "#000", width: 2.5 },
					ticks: { color: "#000", font: { size: 17 }, padding: 0, maxRotation: 0, autoSkip: false },
					title: { display: true, text: ["Delay to silent state onset", "in reference cell (ms)"], color: "#000", font: { size: 18, lineHeight: 20 / 18 }, padding: { top: 0, bottom: 2 } },
				},
				y: { display: false, min: 0, max: ymax },
			},
		}),
	});
}
histChart(0, 355, [37, 15], [-151 / 0.725, 152 / 0.725], 91 / 4.83, cBins, cCounts, cFitX, cFitY, "#1e8ff5");
histChart(355, 345, [13, 7], [-167 / 0.77, 158 / 0.77], 91 / 2.667, eBins, eCounts, eFitX, eFitY, "#8c8c8c");

// dashed t=0 lines and B scale bars
const ovr = yRange(340, 545, 538, -56, 5.3);
traceChart(0, 340, 355, 545, bX, ovr, [
	line({ data: [{ x: 0, y: -20.15 }, { x: 0, y: -120.15 }], borderColor: "#000", borderWidth: 3, borderDash: [7, 4] }),
	line({ data: [{ x: 24.7, y: -84.1 }, { x: 24.7, y: -74.1 }], borderColor: "#000", borderWidth: 5 }),
	line({ data: [{ x: 58.4, y: -88.1 }, { x: 158.4, y: -88.1 }], borderColor: "#000", borderWidth: 5 }),
]);
traceChart(355, 340, 345, 545, dX, ovr, [
	line({ data: [{ x: 0, y: -20.15 }, { x: 0, y: -114.1 }], borderColor: "#000", borderWidth: 3, borderDash: [7, 4] }),
]);

// ----- cumulative F, G -----
function cumChart(top, h, padTop, axisH, lines, color, withLabels) {
	return new Chart(canvasAt(0, top, 700, h), {
		type: "line",
		data: { datasets: lines.map((l) => line({ data: pts(l), borderColor: color })) },
		options: Object.assign({}, quiet, {
			layout: { padding: { top: padTop, right: 23, left: 0, bottom: 0 } },
			scales: {
				x: {
					type: "linear", min: -200, max: 200,
					afterBuildTicks: (s) => { s.ticks = delayTicks.map((v) => ({ value: v })); },
					afterFit: (s) => { s.height = axisH; },
					grid: { drawOnChartArea: false, drawTicks: true, tickLength: 6, color: "#000", lineWidth: 1.5 },
					border: { display: true, color: "#000", width: 1.5 },
					ticks: { display: withLabels, color: "#000", font: { size: 17 }, padding: 5, maxRotation: 0, autoSkip: false },
					title: { display: withLabels, text: "Delay to silent state onset in reference cell (ms)", color: "#000", font: { size: 18, lineHeight: 20 / 18 }, padding: { top: 0, bottom: 0 } },
				},
				y: {
					min: 0, max: 1,
					afterBuildTicks: (s) => { s.ticks = fracTicks.map((v) => ({ value: v })); },
					afterFit: (s) => { s.width = 109; },
					grid: { drawOnChartArea: false, drawTicks: true, tickLength: 6, color: "#000", lineWidth: 1.5 },
					border: { display: true, color: "#000", width: 1.5 },
					ticks: { color: "#000", font: { size: 17 }, padding: 3, callback: (v) => (v === 0 ? "0" : v.toFixed(1)) },
					title: { display: true, text: ["cumulative fraction", "of silent state onsets"], color: "#000", font: { size: 17, lineHeight: 18 / 17 }, padding: { top: 22, bottom: 0 } },
				},
			},
		}),
	});
}
cumChart(1000, 175, 23, 14, fPairs, "#1c1ce6", false);
cumChart(1205, 210, 22, 51, gPairs, "#888888", true);

// ----- text -----
const P = { size: 26, bold: true, color: "#000" };
txt("A", 0, 14, P);
txt("B", 1, 318, P);
txt("C", 0, 857, P);
txt("D", 365, 318, P);
txt("E", 366, 857, P);
txt("F", 0, 1007, P);
txt("G", 0, 1200, P);

txt("LFP", 0, 53, { color: "#231f20" });
txt("Cell 1", 0, 167, { color: BLUE });
txt("(KCl)", 0, 188, { color: BLUE });
txt("Cell 2", 0, 230, { color: ORANGE });
txt("(KAc)", 0, 252, { color: ORANGE });
txt("20 mV", 220, 263);
txt("500 ms", 598, 287, { align: "center" });

txt("KCl vs. KAc", 195, 323, { align: "center" });
txt("KAc vs. KAc", 537, 323, { align: "center" });
txt("-56", 4, 538);
txt("-62", 4, 747);
txt("-68", 377, 577, { align: "right" });
txt("-61", 377, 757, { align: "right" });
txt("10 mV", 218, 660);
txt("100 ms", 273, 730, { align: "center" });

txt("n= 87 events", 58, 857);
txt("n= 70 events", 404, 857);
txt("n= 20 pairs", 548, 1076, { size: 17.5 });
txt("n=847 events", 548, 1094, { size: 17.5 });
txt("n= 23 pairs", 548, 1273, { size: 17.5 });
txt("n=1782 events", 548, 1292, { size: 17.5 });
</script>
</body>
</html>
